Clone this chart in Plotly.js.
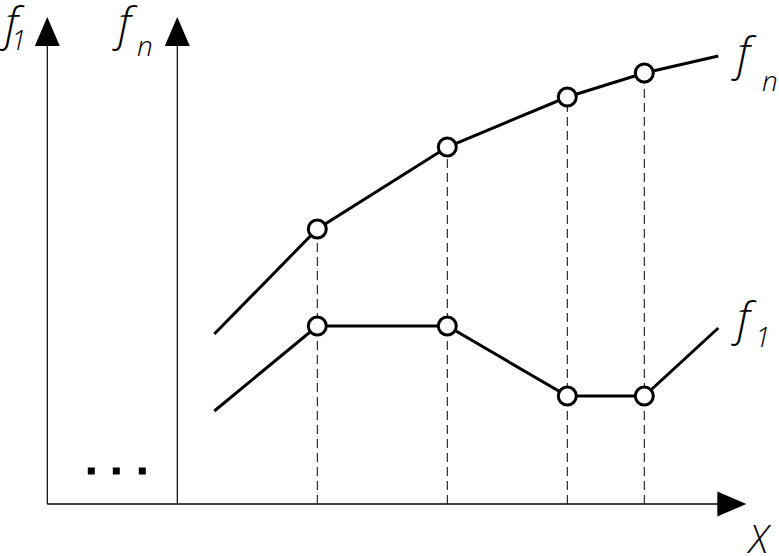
<!DOCTYPE html>
<html>
<head>
<meta charset="utf-8">
<script src="https://cdn.plot.ly/plotly-3.0.1.min.js"></script>
<style>html,body{margin:0;padding:0;background:#fff;}#chart{width:779px;height:556px;}</style>
</head>
<body>
<div id="chart"></div>
<script>
// Schematic data (arbitrary units, origin at the f1 axis / X axis crossing)
const xNodes   = [270, 400, 520, 597];   // sampled X positions (circles)
const fnNodes  = [275, 357, 407, 431];   // f_n at the nodes
const f1Nodes  = [178, 178, 108, 108];   // f_1 at the nodes
const xStart   = 167;                    // curves begin
const xEnd     = 671;                    // curves end
const fnEnds   = [170, 448];             // f_n at start / end
const f1Ends   = [93, 176];              // f_1 at start / end
const axisXs   = [0, 130];               // positions of the f_1 and f_n axes
const axisTop  = 487;                    // tip of the vertical arrows
const xAxisTip = 699;                    // tip of the X arrow
const dotsX    = [44, 69, 95];           // the "..." between the axes
const dotsY    = [33, 33, 33];

const fnX = [xStart, ...xNodes, xEnd];
const fnY = [fnEnds[0], ...fnNodes, fnEnds[1]];
const f1X = [xStart, ...xNodes, xEnd];
const f1Y = [f1Ends[0], ...f1Nodes, f1Ends[1]];

const traces = [];
// dashed drop lines
xNodes.forEach((x, i) => {
  traces.push({x: [x, x], y: [0, Math.max(fnNodes[i], f1Nodes[i])], mode: 'lines',
    line: {color: '#000', width: 1, dash: '9px,5px'}, hoverinfo: 'skip'});
});
// curves
[[fnX, fnY], [f1X, f1Y]].forEach(([xs, ys]) => {
  traces.push({x: xs, y: ys, mode: 'lines', line: {color: '#000', width: 3}, hoverinfo: 'skip'});
});
// circles
traces.push({x: xNodes, y: fnNodes, mode: 'markers',
  marker: {symbol: 'circle', size: 18, color: '#fff', line: {color: '#000', width: 3}}, hoverinfo: 'skip'});
traces.push({x: xNodes, y: f1Nodes, mode: 'markers',
  marker: {symbol: 'circle', size: 18, color: '#fff', line: {color: '#000', width: 3}}, hoverinfo: 'skip'});
// dots
traces.push({x: dotsX, y: dotsY, mode: 'markers',
  marker: {symbol: 'square', size: 7, color: '#000'}, hoverinfo: 'skip'});

const headLen = 29, headHalf = 12.5;
const shapes = [];
axisXs.forEach(ax => {
  shapes.push({type: 'line', xref: 'x', yref: 'y', x0: ax, x1: ax, y0: 0, y1: axisTop - headLen + 2,
    line: {color: '#000', width: 1.2}});
  shapes.push({type: 'path', xref: 'x', yref: 'y',
    path: `M ${ax - headHalf} ${axisTop - headLen} L ${ax} ${axisTop} L ${ax + headHalf} ${axisTop - headLen} Z`,
    fillcolor: '#000', line: {color: '#000', width: 0}});
});
shapes.push({type: 'line', xref: 'x', yref: 'y', x0: 0, x1: xAxisTip - headLen + 2, y0: 0, y1: 0,
  line: {color: '#000', width: 1.5}});
shapes.push({type: 'path', xref: 'x', yref: 'y',
  path: `M ${xAxisTip - headLen} ${headHalf} L ${xAxisTip} 0 L ${xAxisTip - headLen} ${-headHalf} Z`,
  fillcolor: '#000', line: {color: '#000', width: 0}});

const FONT = 'Open Sans';
function lab(text, x, y, size) {
  return {text: '<i>' + text + '</i>', x: x, y: y, xref: 'x', yref: 'y', showarrow: false,
    xanchor: 'center', yanchor: 'middle', font: {family: FONT, size: size, color: '#000', weight: 300}};
}
const annotations = [
  lab('f', -35, 482, 46), lab('1', -29, 465, 28),
  lab('f', 78, 482, 46),  lab('n', 98, 459, 28),
  lab('f', 697, 452, 46), lab('n', 723, 424, 28),
  lab('f', 697, 187, 46), lab('1', 715, 168, 28),
  lab('X', 712, -34, 38)
];

const layout = {
  width: 779, height: 556,
  margin: {l: 0, r: 0, t: 0, b: 0},
  paper_bgcolor: '#fff', plot_bgcolor: '#fff',
  showlegend: false,
  xaxis: {range: [-47.3, 731.7], visible: false, fixedrange: true},
  yaxis: {range: [-52, 504], visible: false, fixedrange: true},
  shapes: shapes,
  annotations: annotations
};
Plotly.newPlot('chart', traces, layout, {staticPlot: true, displayModeBar: false});
</script>
</body>
</html>
